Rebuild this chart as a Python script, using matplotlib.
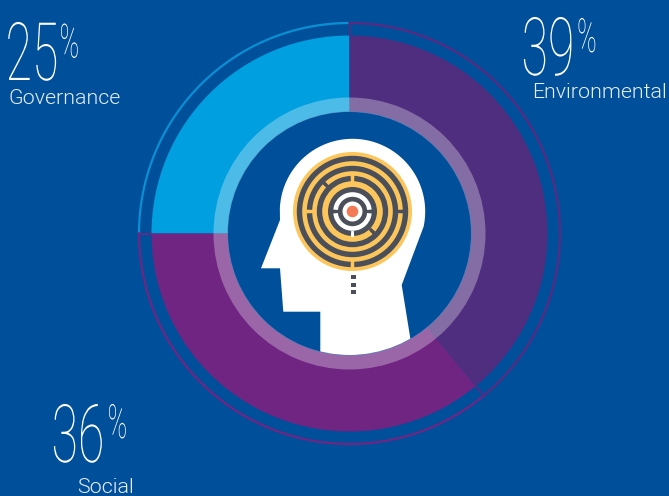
import matplotlib
matplotlib.use("Agg")
import matplotlib.pyplot as plt
import matplotlib.patheffects as pe
from matplotlib.patches import Circle, Wedge, Polygon
from matplotlib.transforms import Affine2D
import numpy as np

# Share of each theme, going anticlockwise from 12 o'clock
categories = ["Governance", "Social", "Environmental"]
shares = [25, 36, 39]
share_labels = ["25", "36", "39"]

BG = "#004f9b"
FILL_COLORS = ["#009fdf", "#702582", "#4f2d7f"]
RIM_COLORS = ["#0a8fd3", "#702582", "#5b2a80"]
GREY = "#4a4f5a"
YELLOW = "#fdc65a"
WHITE = "#ffffff"

CX, CY = 349.5, 233.5
MX, MY = 352.5, 211.5


class Condense(pe.AbstractPathEffect):
    # squeezes glyphs horizontally, there is no condensed hairline face installed
    def __init__(self, sx):
        super().__init__()
        self.sx = sx

    def draw_path(self, renderer, gc, tpath, affine, rgbFace=None):
        renderer.draw_path(gc, tpath, Affine2D().scale(self.sx, 1) + affine, rgbFace)


def band(r, width, color, z):
    ax.add_patch(Wedge((MX, MY), r + width / 2, 0, 360, width=width, fc=color, ec="none", zorder=z))


def stub(r, screen_angle, length, thick, color, z=5.8):
    # short radial bar across a maze ring, angle counted anticlockwise on screen
    half = np.degrees(thick / 2 / r)
    a = -screen_angle
    ax.add_patch(Wedge((MX, MY), r + length / 2, a - half, a + half, width=length,
                       fc=color, ec="none", zorder=z))


fig = plt.figure(figsize=(6.69, 4.96), dpi=100, facecolor=BG)
ax = fig.add_axes([0, 0, 1, 1])

# pie angles on an inverted y axis, so counterclock=False turns anticlockwise on screen
ax.pie(shares, colors=FILL_COLORS, startangle=-90, counterclock=False, center=(CX, CY),
       radius=198, wedgeprops=dict(width=76, linewidth=0), frame=False)
ax.set_xlim(0, 669)
ax.set_ylim(496, 0)
ax.set_aspect("auto")
ax.axis("off")

# thin outer rim and the short ticks that tie it to the wedges
angles = np.cumsum([0] + shares) / 100 * 2 * np.pi
for i in range(3):
    t = np.linspace(angles[i], angles[i + 1], 200)
    ax.plot(CX - 210.5 * np.sin(t), CY - 210.5 * np.cos(t), color=RIM_COLORS[i], lw=1.6, zorder=3)
    a = angles[i]
    tick_color = RIM_COLORS[i - 1] if i == 0 else RIM_COLORS[i]
    ax.plot([CX - 198 * np.sin(a), CX - 210.5 * np.sin(a)], [CY - 198 * np.cos(a), CY - 210.5 * np.cos(a)],
            color=tick_color, lw=1.2, zorder=3)

# pale translucent band on the inside of the donut
ax.add_patch(Wedge((CX, CY), 136, 0, 360, width=14.5, fc="white", ec="none", alpha=0.3, zorder=4))

# head silhouette, trimmed by the inner circle
arc = np.radians(np.linspace(182, 372, 90))
head_x = list(MX + 72.7 * np.cos(arc))
head_y = list(MY + 72.7 * np.sin(arc))
head_x = [320.3, 320.3, 283.3, 280, 261, 280] + head_x + [401.7, 410.7, 430, 320.3]
head_y = [360, 311.7, 311.7, 268.3, 268.3, 220] + head_y + [285, 340.7, 400, 400]
head = Polygon(np.column_stack([head_x, head_y]), fc="white", ec="none", zorder=5)
ax.add_patch(head)
head.set_clip_path(Circle((CX, CY), 121.5, transform=ax.transData))

# maze: yellow disc with grey rings, white ring round the target
ax.add_patch(Circle((MX, MY), 59.5, fc=YELLOW, ec="none", zorder=5.5))
for r in [53, 43, 33]:
    band(r, 5.4, GREY, 5.6)
ax.add_patch(Circle((MX, MY), 24.5, fc=GREY, ec="none", zorder=5.6))
band(17, 4.6, WHITE, 5.7)
ax.add_patch(Circle((MX, MY), 10, fc=WHITE, ec="none", zorder=5.7))
ax.add_patch(Circle((MX, MY), 5.8, fc="#f47a56", ec="none", zorder=5.9))

# walls and openings of the maze
stub(53, 270, 7, 3.5, YELLOW)
stub(43, 180, 7, 3.5, YELLOW)
stub(33, 90, 7, 3.5, YELLOW)
stub(48, 0, 7, 3.5, GREY)
stub(38, 135, 7, 3.5, GREY)
stub(28, 315, 7, 3.5, GREY)
stub(17, 180, 7, 3.5, GREY)
stub(17, 0, 7, 3.5, GREY)
stub(22.5, 270, 6, 3, WHITE)

# spine of dots under the maze
for y in [277, 284.5, 292]:
    ax.add_patch(plt.Rectangle((350.5, y - 2), 5, 4, fc=GREY, ec="none", zorder=6))

# callouts
num_positions = [(5.5, 80), (51.5, 462), (521.5, 75)]
pct_positions = [(59.5, 57.5), (107.5, 438), (577, 52)]
label_positions = [(8, 104), (77, 493), (532, 98)]
for i, name in enumerate(categories):
    ax.text(*num_positions[i], share_labels[i], fontsize=58, family="Roboto", weight=100,
            color="white", ha="left", va="baseline", path_effects=[Condense(0.6)])
    ax.text(*pct_positions[i], "%", fontsize=34, family="Roboto", weight=100,
            color="white", ha="left", va="baseline", path_effects=[Condense(0.56)])
    ax.text(*label_positions[i], name, fontsize=15.4, family="Roboto", weight=300,
            color="#e8eef6", ha="left", va="baseline")

fig.savefig("out.png", dpi=100, facecolor=BG)
